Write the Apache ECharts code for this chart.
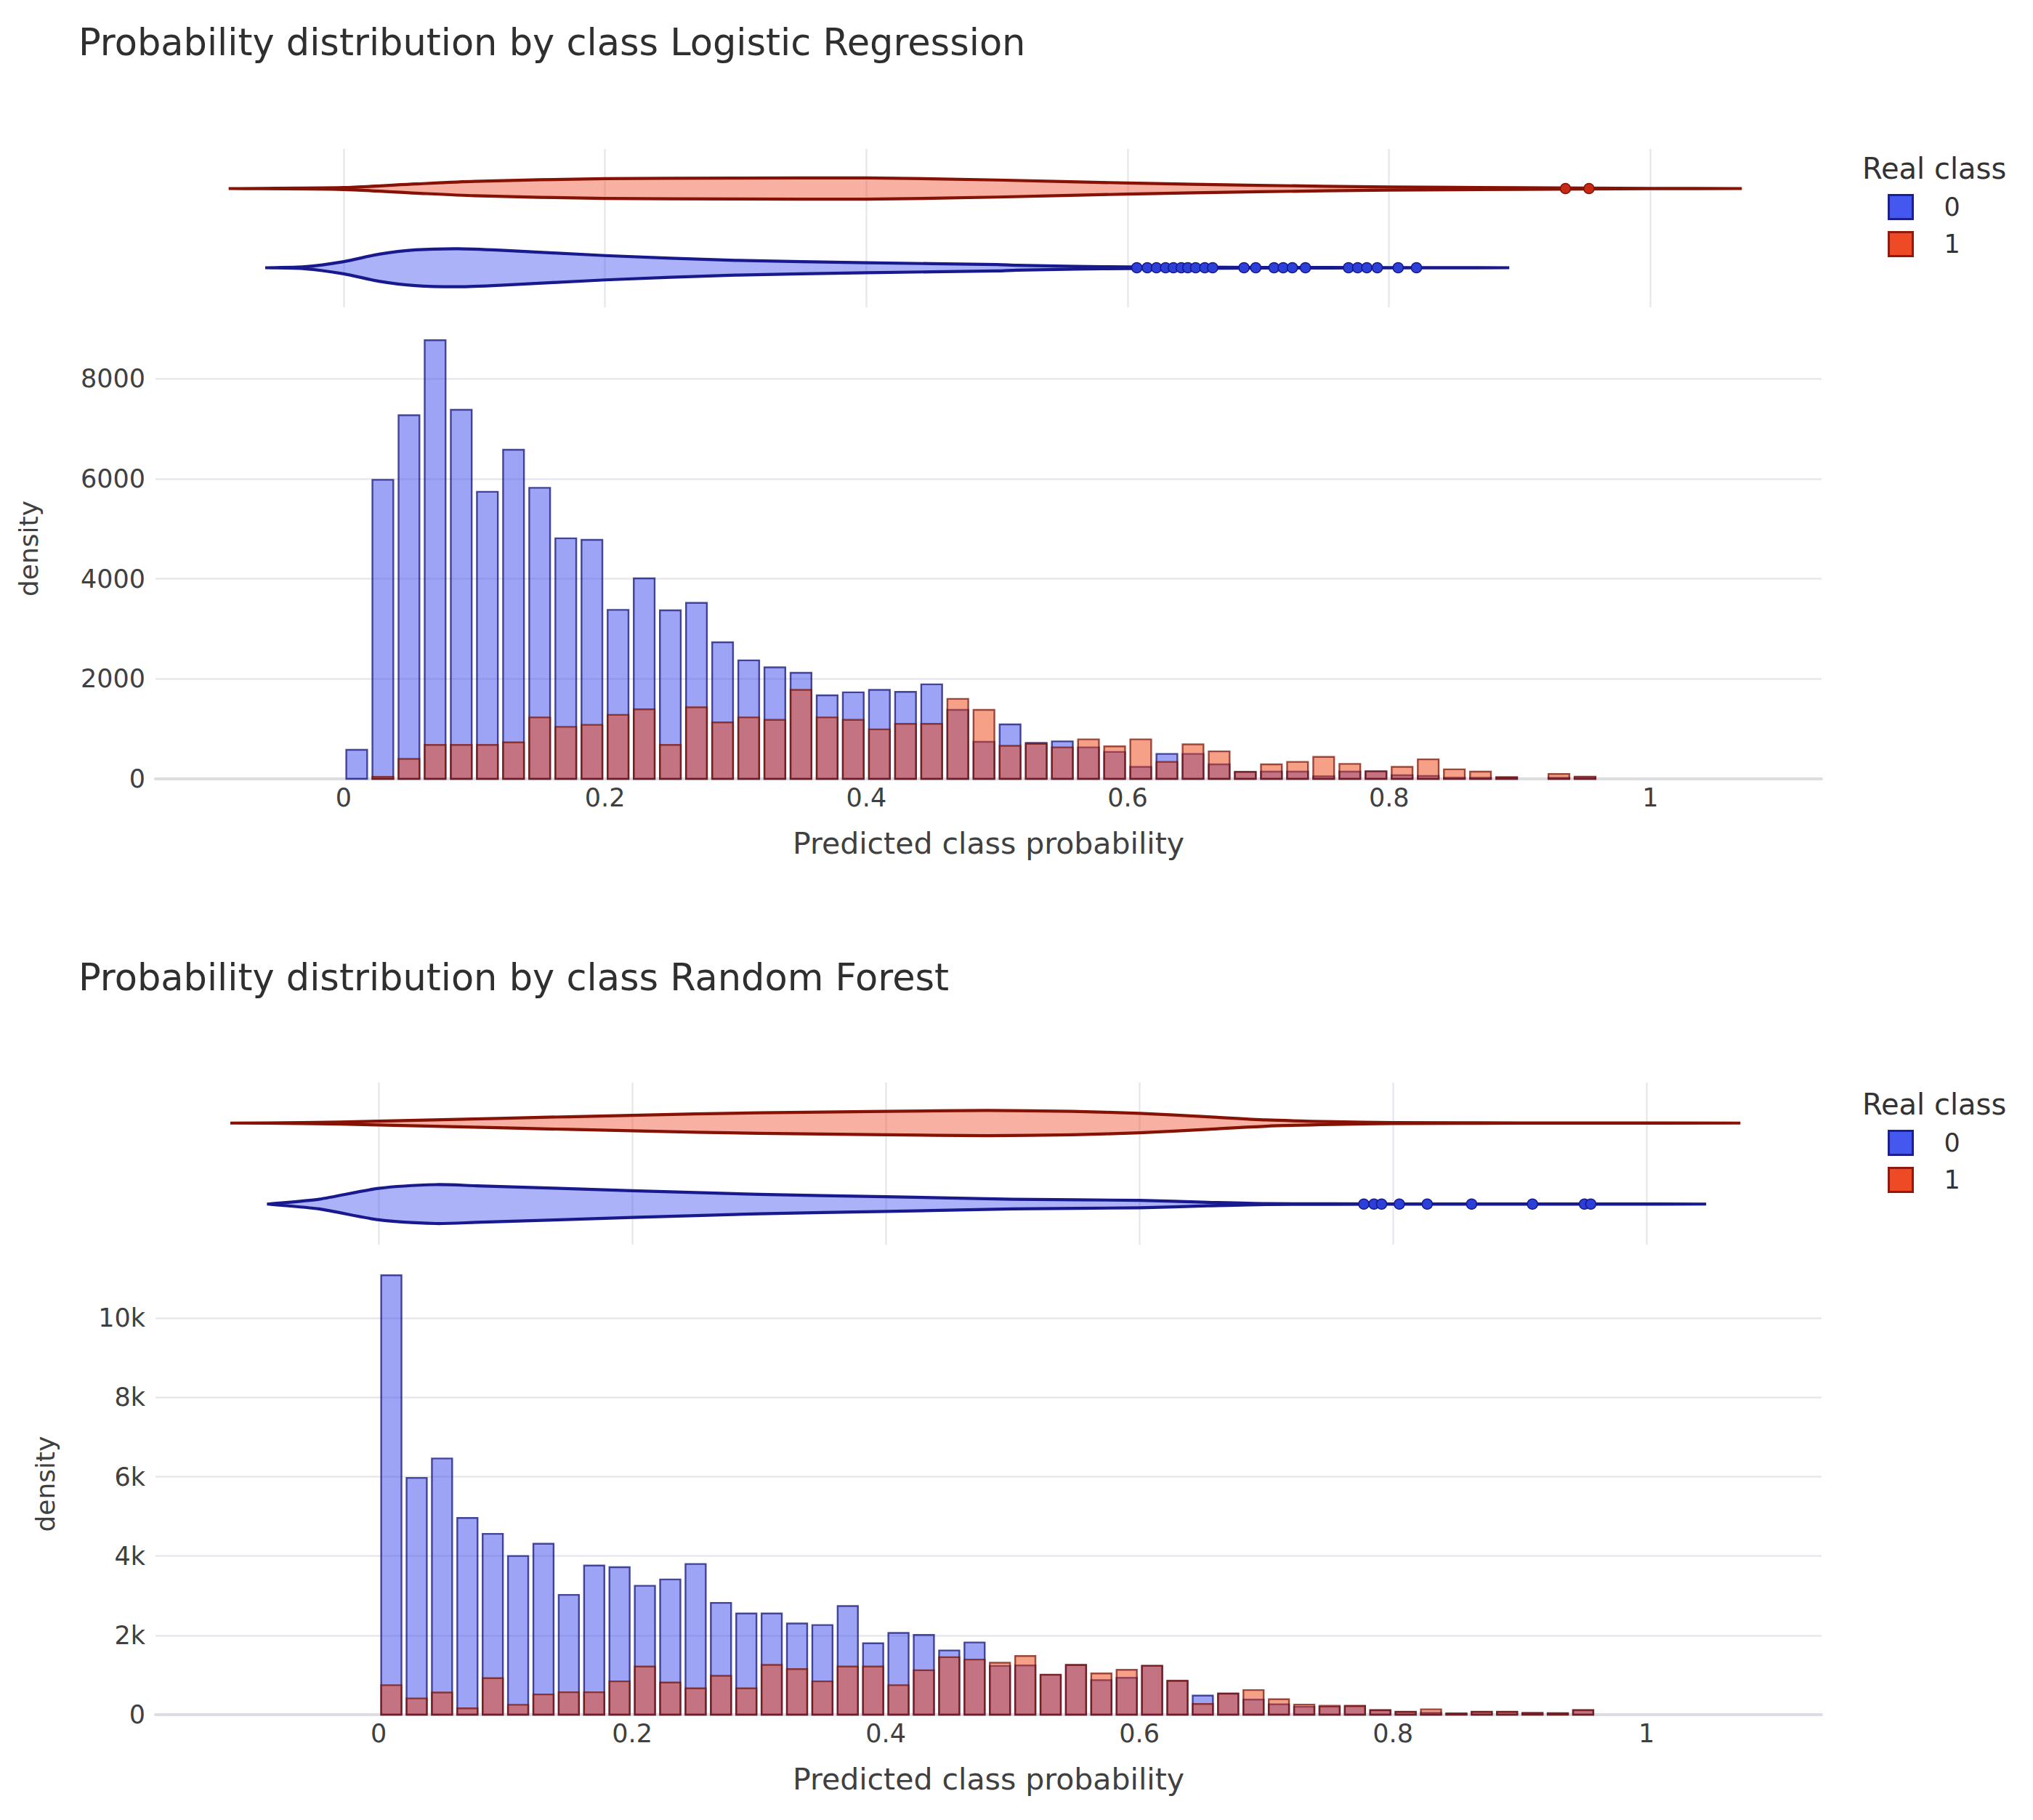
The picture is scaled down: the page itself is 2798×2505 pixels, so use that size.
<!DOCTYPE html>
<html>
<head>
<meta charset="utf-8">
<script src="https://cdn.jsdelivr.net/npm/echarts@6/dist/echarts.min.js"></script>
<style>
html,body{margin:0;padding:0;background:#ffffff;}
#chart{width:2798px;height:2505px;}
</style>
</head>
<body>
<div id="chart"></div>
<script>
// ---------------- DATA ----------------
const binCenters = [0.01,0.03,0.05,0.07,0.09,0.11,0.13,0.15,0.17,0.19,
                    0.21,0.23,0.25,0.27,0.29,0.31,0.33,0.35,0.37,0.39,
                    0.41,0.43,0.45,0.47,0.49,0.51,0.53,0.55,0.57,0.59,
                    0.61,0.63,0.65,0.67,0.69,0.71,0.73,0.75,0.77,0.79,
                    0.81,0.83,0.85,0.87,0.89,0.91,0.93,0.95];

// Logistic Regression histogram counts
const lrClass0 = [580,5980,7270,8770,7380,5740,6580,5820,4810,4780,
                  3380,4010,3370,3520,2730,2370,2230,2120,1670,1730,
                  1780,1740,1890,1380,740,1090,720,750,630,540,
                  240,500,500,290,140,146,146,50,146,150,
                  73,58,24,24,30,0,24,30];
const lrClass1 = [0,40,400,680,680,680,730,1230,1040,1080,
                  1280,1390,680,1430,1130,1230,1180,1780,1230,1180,
                  990,1100,1100,1600,1380,660,700,630,790,650,
                  790,340,690,550,140,290,340,440,300,150,
                  240,390,190,146,35,0,97,45];

// Random Forest histogram counts
const rfClass0 = [11080,5970,6460,4960,4560,4000,4310,3020,3760,3720,
                  3250,3410,3800,2820,2550,2550,2300,2260,2740,1800,
                  2060,2010,1620,1820,1230,1240,1000,1250,870,930,
                  1230,850,480,530,380,260,200,200,210,110,
                  70,45,30,70,70,40,35,110];
const rfClass1 = [745,410,560,160,920,250,510,565,565,840,
                  1215,810,665,980,665,1255,1150,840,1215,1215,
                  745,1120,1450,1390,1310,1480,1010,1255,1040,1130,
                  1235,856,270,532,620,390,255,225,225,115,
                  73,135,30,73,73,43,37,116];

// Violin density profiles (relative half-widths)
const lrViolin0X = [-0.06,-0.03,0,0.027,0.055,0.088,0.12,0.2,0.3,0.4,0.5,0.515,0.56,0.6,0.7,0.8,0.892];
const lrViolin0D = [0,0.05,0.32,0.71,0.94,1.0,0.92,0.64,0.39,0.26,0.17,0.13,0.07,0.045,0.02,0.01,0];
const lrViolin1X = [-0.088,0,0.055,0.1,0.2,0.3,0.4,0.5,0.6,0.7,0.8,0.9,1.0,1.07];
const lrViolin1D = [0,0.05,0.24,0.38,0.52,0.55,0.56,0.45,0.29,0.17,0.08,0.045,0.01,0];
const rfViolin0X = [-0.088,-0.047,0,0.045,0.077,0.2,0.3,0.4,0.5,0.6,0.654,0.7,0.8,1.047];
const rfViolin0D = [0,0.25,0.81,1.0,0.94,0.69,0.5,0.38,0.25,0.19,0.09,0.02,0.01,0];
const rfViolin1X = [-0.117,-0.06,0,0.1,0.2,0.3,0.4,0.48,0.547,0.6,0.654,0.7,0.753,0.8,0.9,1.074];
const rfViolin1D = [0,0.02,0.10,0.25,0.40,0.53,0.60,0.65,0.60,0.50,0.32,0.16,0.07,0.02,0.01,0];

// Violin outlier points
const lrOutliers0 = [0.607,0.615,0.622,0.629,0.635,0.641,0.646,0.652,0.659,0.665,
                     0.689,0.698,0.712,0.719,0.726,0.736,
                     0.769,0.776,0.783,0.791,0.807,0.821];
const lrOutliers1 = [0.935,0.953];
const rfOutliers0 = [0.777,0.785,0.791,0.805,0.827,0.862,0.910,0.951,0.956];
const rfOutliers1 = [];

const xTickValues = [0,0.2,0.4,0.6,0.8,1];
const xTickLabels = ['0','0.2','0.4','0.6','0.8','1'];
const classNames = ['0','1'];
const titles = ['Probability distribution by class Logistic Regression',
                'Probability distribution by class Random Forest'];

// ---------------- STYLE ----------------
const FONT = 'DejaVu Sans';
const BAR_W = 0.016;
const VIOLIN_SCALE = 0.24;
const GRID_COLOR = '#e6e8ee';
const TXT = '#404040';
const blueBar = {fill:'rgba(59,73,235,0.5)', stroke:'rgba(20,22,120,0.75)'};
const redBar  = {fill:'rgba(235,65,15,0.5)', stroke:'rgba(115,15,0,0.7)'};
const blueViolin = {fill:'rgba(70,85,240,0.45)', stroke:'#17198c'};
const redViolin  = {fill:'rgba(240,80,50,0.45)', stroke:'#851204'};

function pairs(xs, ys){ return xs.map((x,i)=>[x, ys[i]]); }

function barRender(style){
  return function(params, api){
    const c = api.value(0), v = api.value(1);
    if (!(v > 0)) return null;
    const a = api.coord([c - BAR_W/2, v]);
    const b = api.coord([c + BAR_W/2, 0]);
    return {type:'rect', shape:{x:a[0], y:a[1], width:b[0]-a[0], height:b[1]-a[1]},
            style:{fill:style.fill, stroke:style.stroke, lineWidth:2.4}};
  };
}

function violinRender(xs, ds, cat, style){
  return function(params, api){
    if (params.dataIndex !== 0) return null;
    const band = Math.abs(api.coord([0,1])[1] - api.coord([0,0])[1]);
    const k = band * VIOLIN_SCALE;
    const up = [], dn = [];
    for (let i=0;i<xs.length;i++){
      const p = api.coord([xs[i], cat]);
      up.push([p[0], p[1] - ds[i]*k]);
      dn.push([p[0], p[1] + ds[i]*k]);
    }
    const pts = up.concat(dn.reverse());
    return {type:'polygon', shape:{points:pts, smooth:0.25},
            style:{fill:style.fill, stroke:style.stroke, lineWidth:4.2}};
  };
}

function xLabel(v){
  for (let i=0;i<xTickValues.length;i++){
    if (Math.abs(v - xTickValues[i]) < 1e-6) return xTickLabels[i];
  }
  return '';
}

// layout per panel
const panels = [
  {title:titles[0], titleTop:33, violinTop:205, violinH:218, histTop:438, histH:634,
   xMin:-0.144, xMax:1.131, yMax:9210, yFmt:(v)=> (v % 2000 === 0 ? String(v) : ''),
   densityGap:157, legendTop:267, legendTitleTop:212,
   c0:lrClass0, c1:lrClass1, v0:[lrViolin0X,lrViolin0D], v1:[lrViolin1X,lrViolin1D],
   o0:lrOutliers0, o1:lrOutliers1},
  {title:titles[1], titleTop:1320, violinTop:1490, violinH:223, histTop:1725, histH:635,
   xMin:-0.176, xMax:1.138, yMax:11634, yFmt:(v)=> (v === 0 ? '0' : (v % 2000 === 0 ? (v/1000)+'k' : '')),
   densityGap:134, legendTop:1555, legendTitleTop:1500,
   c0:rfClass0, c1:rfClass1, v0:[rfViolin0X,rfViolin0D], v1:[rfViolin1X,rfViolin1D],
   o0:rfOutliers0, o1:rfOutliers1}
];

const option = {
  backgroundColor:'#ffffff',
  animation:false,
  textStyle:{fontFamily:FONT},
  title:[], legend:[], grid:[], xAxis:[], yAxis:[], series:[]
};

panels.forEach((p, k) => {
  const gV = k*2, gH = k*2+1;
  option.title.push({text:p.title, left:108, top:p.titleTop, padding:0,
    textStyle:{fontFamily:FONT, fontSize:51, fontWeight:'normal', color:'#2f2f2f'}});
  option.title.push({text:'Real class', left:2563, top:p.legendTitleTop, padding:0,
    textStyle:{fontFamily:FONT, fontSize:40, fontWeight:'normal', color:'#333333'}});
  option.legend.push({
    orient:'vertical', left:2598, top:p.legendTop, padding:0,
    itemWidth:33, itemHeight:33, itemGap:15,
    textStyle:{fontFamily:FONT, fontSize:35, color:'#333333', padding:[0,0,0,38]},
    data:[
      {name:classNames[0], icon:'rect', itemStyle:{color:'#4458ef', borderColor:'#1b1f8f', borderWidth:3}},
      {name:classNames[1], icon:'rect', itemStyle:{color:'#ef4a26', borderColor:'#8f1a0a', borderWidth:3}}
    ]
  });
  option.grid.push({left:214, right:291, top:p.violinTop, height:p.violinH, containLabel:false});
  option.grid.push({left:214, right:291, top:p.histTop, height:p.histH, containLabel:false});

  // violin axes
  option.xAxis.push({type:'value', gridIndex:gV, min:p.xMin, max:p.xMax, splitNumber:7,
    axisLine:{show:false}, axisTick:{show:false}, axisLabel:{show:false},
    splitLine:{show:true, showMinLine:false, showMaxLine:false, lineStyle:{color:GRID_COLOR, width:2.5}}});
  option.yAxis.push({type:'category', gridIndex:gV, data:classNames, boundaryGap:true,
    axisLine:{show:false}, axisTick:{show:false}, axisLabel:{show:false}, splitLine:{show:false}});

  // histogram axes
  option.xAxis.push({type:'value', gridIndex:gH, min:p.xMin, max:p.xMax, splitNumber:7,
    axisLine:{show:true, onZero:false, lineStyle:{color:'#dcdde2', width:4}},
    axisTick:{show:false},
    axisLabel:{show:true, formatter:xLabel, showMinLabel:true, showMaxLabel:true, margin:8,
      fontFamily:FONT, fontSize:35, color:TXT},
    splitLine:{show:false},
    name:'Predicted class probability', nameLocation:'middle', nameGap:68,
    nameTextStyle:{fontFamily:FONT, fontSize:41, color:TXT}});
  option.yAxis.push({type:'value', gridIndex:gH, min:0, max:p.yMax, interval:2000,
    axisLine:{show:false}, axisTick:{show:false},
    axisLabel:{formatter:p.yFmt, margin:14, fontFamily:FONT, fontSize:35, color:TXT},
    splitLine:{show:true, showMinLine:false, showMaxLine:false, lineStyle:{color:GRID_COLOR, width:2.5}},
    name:'density', nameLocation:'middle', nameRotate:90, nameGap:p.densityGap,
    nameTextStyle:{fontFamily:FONT, fontSize:36, color:TXT}});

  const xV = k*2, xH = k*2+1;
  // violins
  option.series.push({name:classNames[1], type:'custom', xAxisIndex:xV, yAxisIndex:xV,
    renderItem:violinRender(p.v1[0], p.v1[1], 1, redViolin),
    data:[[p.v1[0][0], 1]], encode:{x:0, y:1}, z:2, silent:true});
  option.series.push({name:classNames[0], type:'custom', xAxisIndex:xV, yAxisIndex:xV,
    renderItem:violinRender(p.v0[0], p.v0[1], 0, blueViolin),
    data:[[p.v0[0][0], 0]], encode:{x:0, y:1}, z:2, silent:true});
  option.series.push({name:classNames[0], type:'scatter', xAxisIndex:xV, yAxisIndex:xV,
    symbol:'circle', symbolSize:14, z:3,
    itemStyle:{color:'#2c3fd6', borderColor:'#14188c', borderWidth:1.5, opacity:1},
    data:p.o0.map(x=>[x,0])});
  option.series.push({name:classNames[1], type:'scatter', xAxisIndex:xV, yAxisIndex:xV,
    symbol:'circle', symbolSize:14, z:3,
    itemStyle:{color:'#c62a14', borderColor:'#7e1205', borderWidth:1.5, opacity:1},
    data:p.o1.map(x=>[x,1])});

  // histograms (class 0 first, class 1 overlaid)
  option.series.push({name:classNames[0], type:'custom', xAxisIndex:xH, yAxisIndex:xH,
    renderItem:barRender(blueBar), data:pairs(binCenters, p.c0), encode:{x:0, y:1}, z:2});
  option.series.push({name:classNames[1], type:'custom', xAxisIndex:xH, yAxisIndex:xH,
    renderItem:barRender(redBar), data:pairs(binCenters, p.c1), encode:{x:0, y:1}, z:3});
});

const chart = echarts.init(document.getElementById('chart'), null, {renderer:'svg', width:2798, height:2505});
chart.setOption(option);
</script>
</body>
</html>
